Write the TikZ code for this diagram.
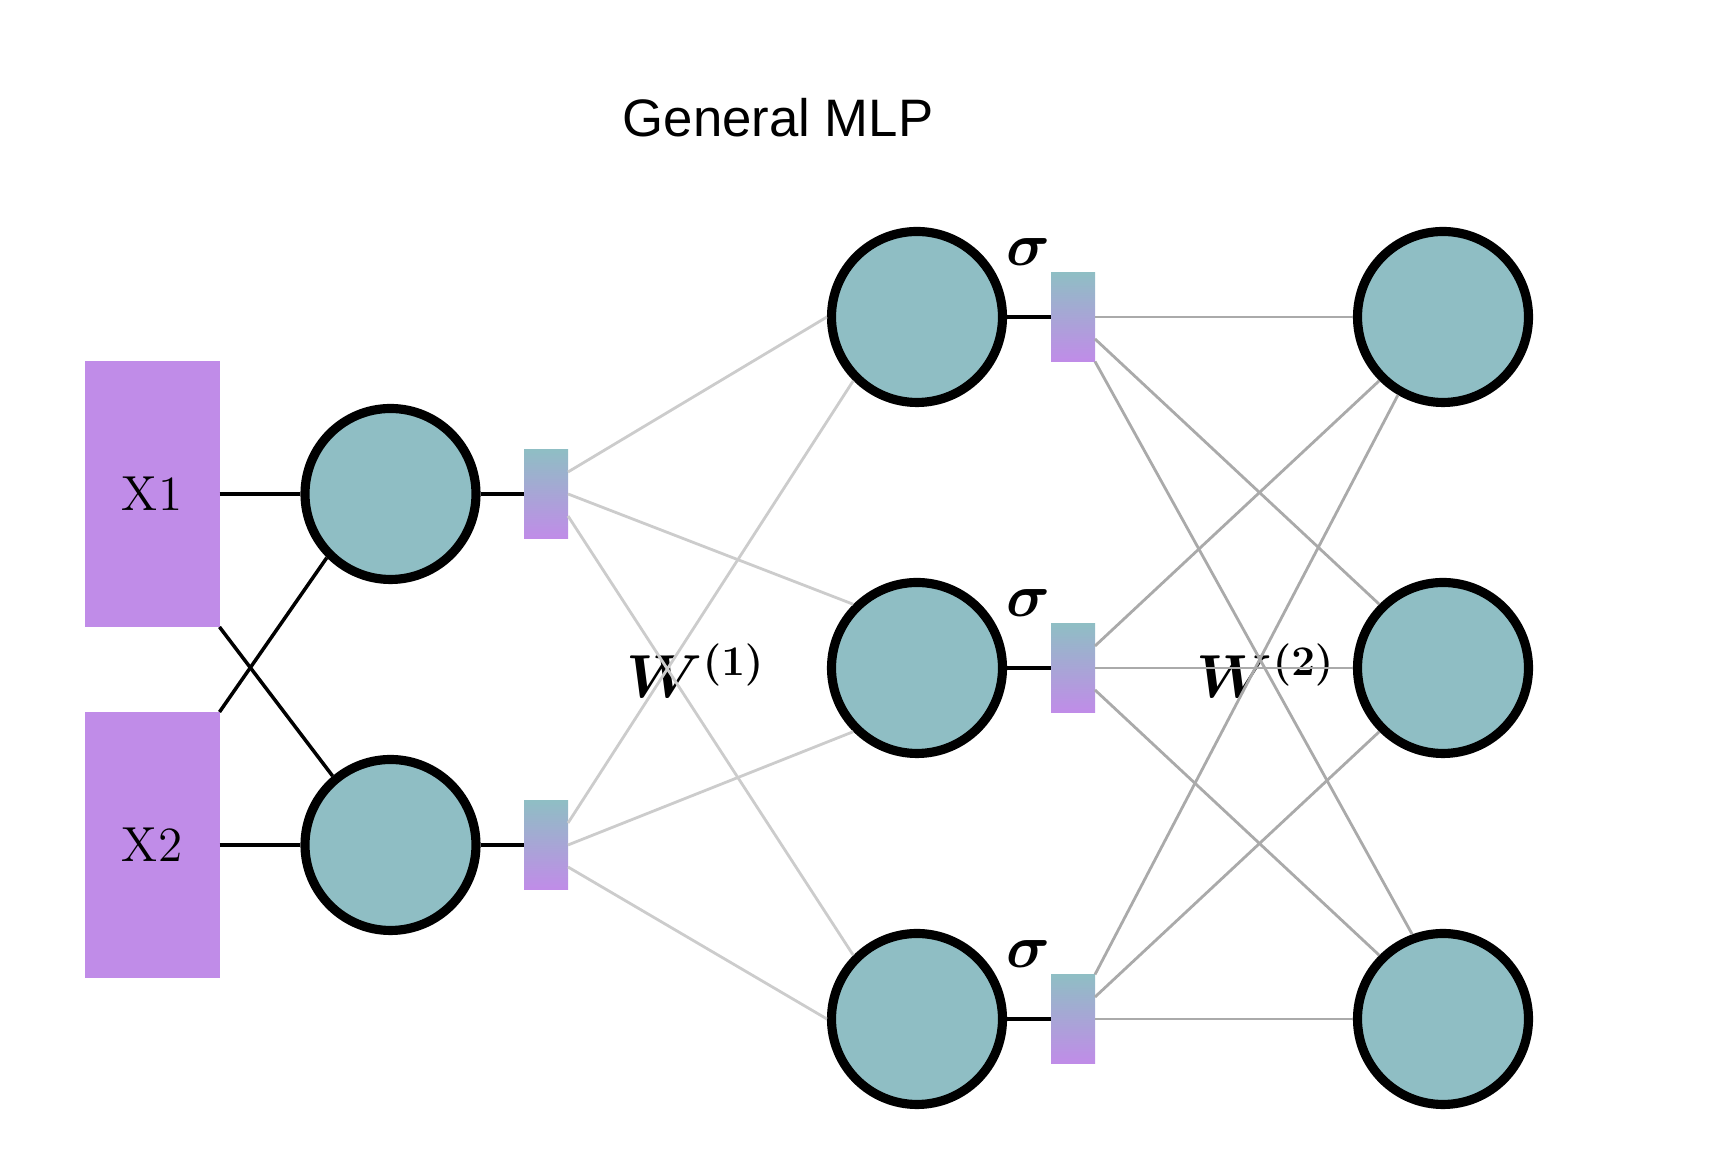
\documentclass[tikz,border=0pt]{standalone}
\usepackage{fontspec}
\usepackage{amsmath}
\usepackage{bm}
\newfontfamily\titlefont{Liberation Sans}
\definecolor{nodeteal}{RGB}{143,190,196}
\definecolor{inpurple}{RGB}{192,140,232}
\definecolor{lightedge}{RGB}{204,204,204}
\definecolor{darkedge}{RGB}{170,170,170}

\begin{document}
\begin{tikzpicture}[
	neuron/.style={circle, draw, line width=2.6pt, fill=nodeteal, minimum size=17.1mm, inner sep=0pt},
	inputbox/.style={rectangle, fill=inpurple, minimum width=13.5mm, minimum height=26.6mm, inner sep=0pt, outer sep=0pt, font=\fontsize{14}{16}\selectfont},
	actbox/.style={rectangle, top color=nodeteal, bottom color=inpurple, minimum width=4.4mm, minimum height=8.9mm, inner sep=0pt, outer sep=0pt},
	mathlabel/.style={inner sep=0pt, font=\fontsize{18}{20}\selectfont},
	wire/.style={line width=1pt},
	edgeone/.style={line width=0.8pt, lightedge},
	edgetwo/.style={line width=0.8pt, darkedge}]
			\useasboundingbox (0, 0) rectangle (17.2, 11.64);
			% Titolo
			\node (title) at (7.78, 10.46) [inner sep=0pt, font=\titlefont\fontsize{15}{18}\selectfont] {General MLP};
			
			% Ingressi
			\node (x1) at (1.52, 6.70) [inputbox] {X1};
			\node (x2) at (1.52, 3.19) [inputbox] {X2};
			
			% Primo strato
			\node (h1) at (3.905, 6.70) [neuron] {};
			\node (h2) at (3.905, 3.19) [neuron] {};
			\node (b1) at (5.46, 6.70) [actbox] {};
			\node (b2) at (5.46, 3.19) [actbox] {};
			
			% Strato nascosto
			\node (m1) at (9.17, 8.47) [neuron] {};
			\node (m2) at (9.17, 4.96) [neuron] {};
			\node (m3) at (9.17, 1.45) [neuron] {};
			\node (s1) at (10.73, 8.47) [actbox] {};
			\node (s2) at (10.73, 4.96) [actbox] {};
			\node (s3) at (10.73, 1.45) [actbox] {};
			\node (sig1) at (10.28, 9.12) [mathlabel] {$\bm{\sigma}$};
			\node (sig2) at (10.28, 5.61) [mathlabel] {$\bm{\sigma}$};
			\node (sig3) at (10.28, 2.10) [mathlabel] {$\bm{\sigma}$};
			
			% Uscite
			\node (r1) at (14.43, 8.47) [neuron] {};
			\node (r2) at (14.43, 4.96) [neuron] {};
			\node (r3) at (14.43, 1.45) [neuron] {};
			
			% Pesi
			\node (w1) at (6.96, 4.93) [mathlabel] {$\bm{W^{(1)}}$};
			\node (w2) at (12.66, 4.93) [mathlabel] {$\bm{W^{(2)}}$};
			
			% Archi ingressi
			\draw[wire] (x1.east) -- (h1.west);
			\draw[wire] (x1.south east) -- (h2.130);
			\draw[wire] (x2.north east) -- (h1.south west);
			\draw[wire] (x2.east) -- (h2.west);
			\draw[wire] (h1.east) -- (b1.west);
			\draw[wire] (h2.east) -- (b2.west);
			
			% Archi W1
			\draw[edgeone] (b1.45) -- (m1.west);
			\draw[edgeone] (b1.east) -- (m2.north west);
			\draw[edgeone] (b1.-45) -- (m3.north west);
			\draw[edgeone] (b2.45) -- (m1.south west);
			\draw[edgeone] (b2.east) -- (m2.south west);
			\draw[edgeone] (b2.-45) -- (m3.west);
			
			% Attivazioni
			\draw[wire] (m1.east) -- (s1.west);
			\draw[wire] (m2.east) -- (s2.west);
			\draw[wire] (m3.east) -- (s3.west);
			
			% Archi W2
			\draw[edgetwo] (s1.east) -- (r1.west);
			\draw[edgetwo] (s1.-45) -- (r2.north west);
			\draw[edgetwo] (s1.south east) -- (r3.110);
			\draw[edgetwo] (s2.45) -- (r1.south west);
			\draw[edgetwo] (s2.east) -- (r2.west);
			\draw[edgetwo] (s2.-45) -- (r3.north west);
			\draw[edgetwo] (s3.north east) -- (r1.240);
			\draw[edgetwo] (s3.45) -- (r2.south west);
			\draw[edgetwo] (s3.east) -- (r3.west);
		\end{tikzpicture}
\end{document}
